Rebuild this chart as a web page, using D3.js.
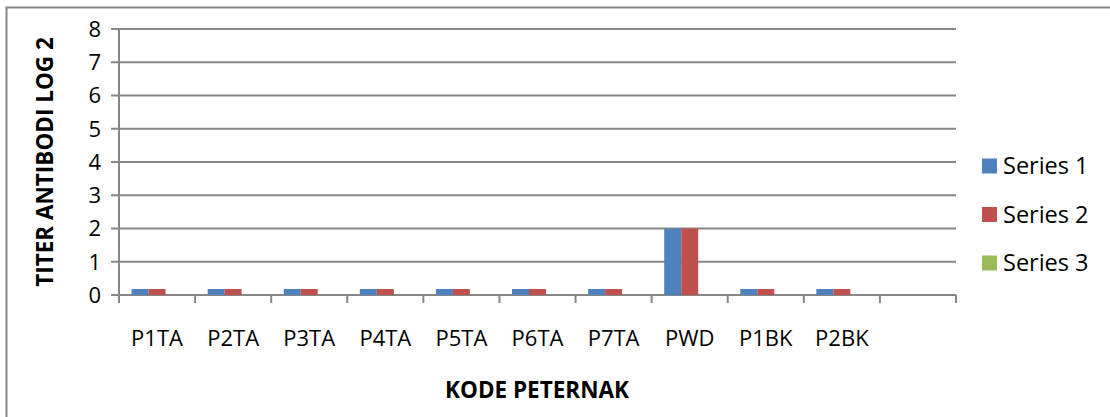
<!DOCTYPE html>
<html>
<head>
<meta charset="utf-8">
<script src="https://cdn.jsdelivr.net/npm/d3@7"></script>
<style>
  body { margin: 0; background: #fff; }
  svg { display: block; font-family: "Open Sans", sans-serif; }
</style>
</head>
<body>
<svg width="1110" height="417"></svg>
<script>
// chart data
const categories = ["P1TA", "P2TA", "P3TA", "P4TA", "P5TA", "P6TA", "P7TA", "PWD", "P1BK", "P2BK", ""];
const seriesNames = ["Series 1", "Series 2", "Series 3"];
const series1 = [0.18, 0.18, 0.18, 0.18, 0.18, 0.18, 0.18, 2, 0.18, 0.18, 0];
const series2 = [0.18, 0.18, 0.18, 0.18, 0.18, 0.18, 0.18, 2, 0.18, 0.18, 0];
const series3 = [0, 0, 0, 0, 0, 0, 0, 0, 0, 0, 0];
const yTicks = [0, 1, 2, 3, 4, 5, 6, 7, 8];
const colors = ["#4f81bd", "#c0504d", "#9bbb59"];

const svg = d3.select("svg");
const margin = { top: 29, right: 154, bottom: 122, left: 119 };
const iwidth = 1110 - margin.left - margin.right,
      iheight = 417 - margin.top - margin.bottom;

// outer chart border (only top and left visible)
svg.append("rect")
  .attr("x", 6.5).attr("y", 7.5)
  .attr("width", 1200).attr("height", 500)
  .attr("fill", "none").attr("stroke", "#878787").attr("stroke-width", 2);

const g = svg.append("g").attr("transform", "translate(" + margin.left + "," + margin.top + ")");

const x0 = d3.scaleBand().domain(d3.range(categories.length)).range([0, iwidth])
  .paddingInner(0.33).paddingOuter(0.165);
const x1 = d3.scaleBand().domain(d3.range(seriesNames.length)).range([0, x0.bandwidth()]);
const y = d3.scaleLinear().domain([0, 8]).range([iheight, 0]);

const grey = "#878787";

// gridlines
g.selectAll(".grid").data(yTicks).enter().append("line")
  .attr("x1", -8).attr("x2", iwidth)
  .attr("y1", d => y(d)).attr("y2", d => y(d))
  .attr("stroke", grey).attr("stroke-width", 2);

// y axis line
g.append("line").attr("x1", 0).attr("x2", 0).attr("y1", 0).attr("y2", iheight + 8)
  .attr("stroke", grey).attr("stroke-width", 2);

// x axis ticks between categories
const step = iwidth / categories.length;
g.selectAll(".xt").data(d3.range(categories.length + 1)).enter().append("line")
  .attr("x1", d => d * step).attr("x2", d => d * step)
  .attr("y1", iheight).attr("y2", iheight + 8)
  .attr("stroke", grey).attr("stroke-width", 2);

// y tick labels
g.selectAll(".yl").data(yTicks).enter().append("text")
  .attr("x", -18).attr("y", d => y(d)).attr("dy", "0.36em")
  .attr("text-anchor", "end").attr("font-size", 22).attr("fill", "#000")
  .text(d => d);

// x tick labels
g.selectAll(".xl").data(categories).enter().append("text")
  .attr("x", (d, i) => x0(i) + x0.bandwidth() / 2).attr("y", 309)
  .attr("dy", "0.36em").attr("text-anchor", "middle").attr("font-size", 22).attr("fill", "#000")
  .text(d => d);

// bars
const allSeries = [series1, series2, series3];
allSeries.forEach((vals, s) => {
  g.selectAll(".bar" + s).data(vals).enter().append("rect")
    .attr("x", (d, i) => x0(i) + x1(s))
    .attr("width", x1.bandwidth())
    .attr("y", d => y(d))
    .attr("height", d => iheight - y(d))
    .attr("fill", colors[s]);
});

// axis titles
svg.append("text")
  .attr("x", 537).attr("y", 390).attr("dy", "0.36em")
  .attr("text-anchor", "middle").attr("font-size", 22.5).attr("font-weight", "bold")
  .text("KODE PETERNAK");

svg.append("text")
  .attr("transform", "translate(45,162) rotate(-90)").attr("dy", "0.36em")
  .attr("text-anchor", "middle").attr("font-size", 22.5).attr("font-weight", "bold")
  .text("TITER ANTIBODI LOG 2");

// legend
const leg = svg.selectAll(".leg").data(seriesNames).enter().append("g")
  .attr("transform", (d, i) => "translate(982," + (166 + i * 48.5) + ")");
leg.append("rect").attr("x", 0).attr("y", -7.5).attr("width", 15).attr("height", 15)
  .attr("fill", (d, i) => colors[i]);
leg.append("text").attr("x", 21).attr("dy", "0.36em").attr("font-size", 23.5)
  .text(d => d);
</script>
</body>
</html>
